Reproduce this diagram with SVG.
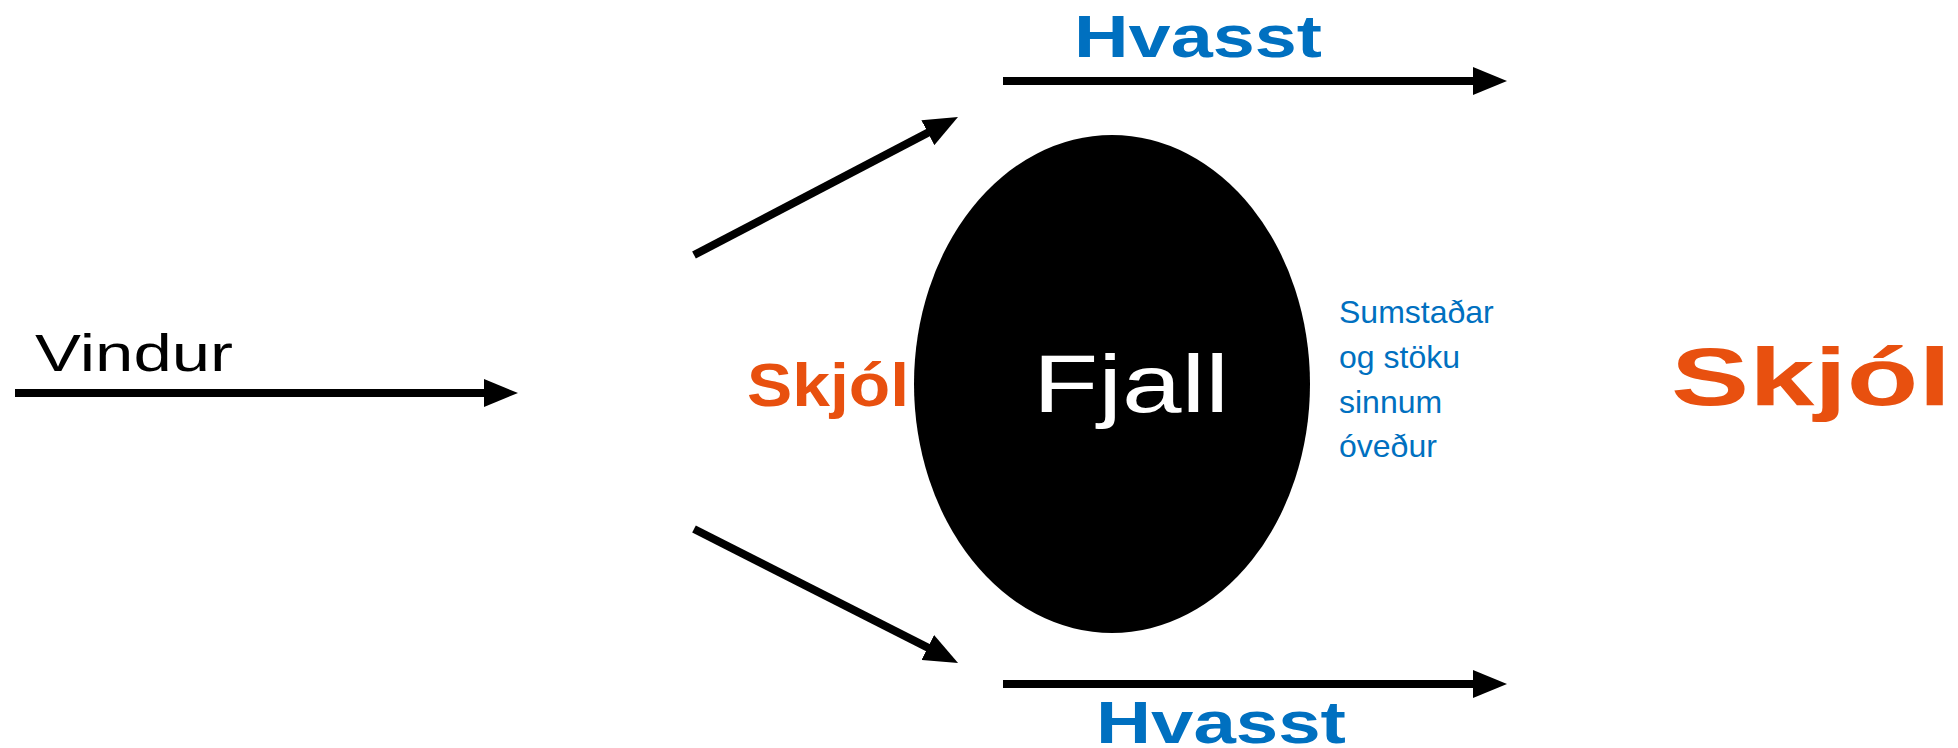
<svg xmlns="http://www.w3.org/2000/svg" width="1958" height="748" viewBox="0 0 1958 748">
<style>
.t{font-family:"Liberation Sans",Arial,sans-serif}
.b{font-weight:bold}
.blue{fill:#0070C0}
.orange{fill:#E8500F}
.arr{stroke:#000;stroke-width:8;fill:none;marker-end:url(#ah)}
</style>
<defs>
<marker id="ah" markerUnits="userSpaceOnUse" markerWidth="34" markerHeight="28" viewBox="0 0 34 28" refX="4" refY="14" orient="auto">
<path d="M0,0 L34,14 L0,28 z" fill="#000"/>
</marker>
</defs>
<rect width="1958" height="748" fill="#fff"/>
<g id="connectors">
<line class="arr" x1="15" y1="393" x2="488" y2="393"/>
<line class="arr" x1="694" y1="255" x2="931.4" y2="130.9"/>
<line class="arr" x1="694" y1="529" x2="931.3" y2="649.4"/>
<line class="arr" x1="1003" y1="81" x2="1477" y2="81"/>
<line class="arr" x1="1003" y1="684" x2="1477" y2="684"/>
</g>
<g id="fjall">
<ellipse cx="1112" cy="384" rx="198" ry="249" fill="#000"/>
<text class="t" x="1033" y="412" font-size="82" fill="#fff" textLength="196" lengthAdjust="spacingAndGlyphs">Fjall</text>
</g>
<g id="vindur">
<text class="t" x="35" y="371" font-size="52" fill="#000" textLength="198" lengthAdjust="spacingAndGlyphs">Vindur</text>
</g>
<g id="hvasst-top">
<text class="t b blue" x="1074" y="57" font-size="60" textLength="248" lengthAdjust="spacingAndGlyphs">Hvasst</text>
</g>
<g id="hvasst-bottom">
<text class="t b blue" x="1096" y="743" font-size="59" textLength="250" lengthAdjust="spacingAndGlyphs">Hvasst</text>
</g>
<g id="skjol-left">
<text class="t b orange" x="747" y="406" font-size="61" textLength="162" lengthAdjust="spacingAndGlyphs">Skjól</text>
</g>
<g id="skjol-right">
<text class="t b orange" x="1671" y="405" font-size="82" textLength="280" lengthAdjust="spacingAndGlyphs">Skjól</text>
</g>
<g id="sumstadar">
<text class="t blue" font-size="32">
<tspan x="1339" y="323">Sumstaðar</tspan>
<tspan x="1339" y="368">og stöku</tspan>
<tspan x="1339" y="413">sinnum</tspan>
<tspan x="1339" y="457">óveður</tspan>
</text>
</g>
</svg>
